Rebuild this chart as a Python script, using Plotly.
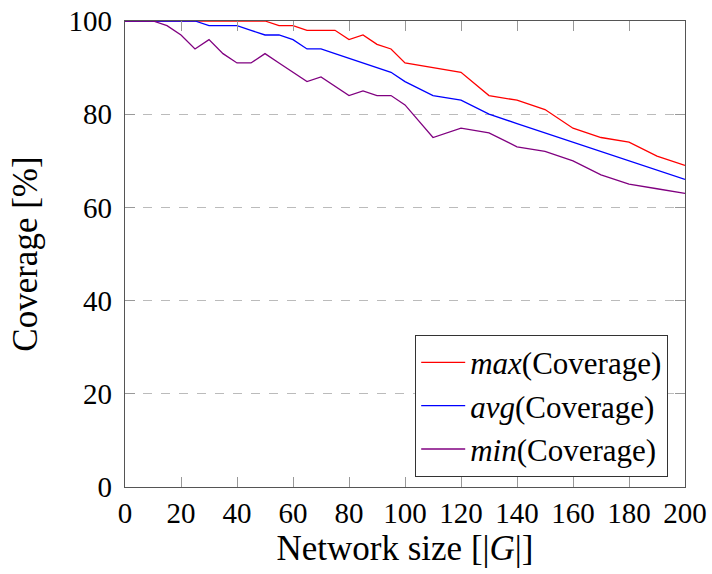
import plotly.graph_objects as go

network_size = [0, 5, 10, 15, 20, 25, 30, 35, 40, 45, 50, 55, 60, 65, 70, 75, 80, 85, 90, 95, 100,
                110, 120, 130, 140, 150, 160, 170, 180, 190, 200]
cov_max = [100, 100, 100, 100, 100, 100, 100, 100, 100, 100, 100, 99, 99, 98, 98, 98, 96, 97, 95, 94, 91,
           90, 89, 84, 83, 81, 77, 75, 74, 71, 69]
cov_avg = [100, 100, 100, 100, 100, 100, 99, 99, 99, 98, 97, 97, 96, 94, 94, 93, 92, 91, 90, 89, 87,
           84, 83, 80, 78, 76, 74, 72, 70, 68, 66]
cov_min = [100, 100, 100, 99, 97, 94, 96, 93, 91, 91, 93, 91, 89, 87, 88, 86, 84, 85, 84, 84, 82,
           75, 77, 76, 73, 72, 70, 67, 65, 64, 63]

x_ticks = list(range(0, 201, 20))
y_ticks = list(range(0, 101, 20))

FONT = "Liberation Serif"

fig = go.Figure()
fig.add_trace(go.Scatter(x=network_size, y=cov_max, mode="lines",
                         line=dict(color="#ff0000", width=1.3),
                         name="<i>max</i>(Coverage)"))
fig.add_trace(go.Scatter(x=network_size, y=cov_avg, mode="lines",
                         line=dict(color="#0000ff", width=1.3),
                         name="<i>avg</i>(Coverage)"))
fig.add_trace(go.Scatter(x=network_size, y=cov_min, mode="lines",
                         line=dict(color="#800080", width=1.3),
                         name="<i>min</i>(Coverage)"))

fig.update_layout(
    width=712, height=574,
    margin=dict(l=125, r=27, t=21, b=87, autoexpand=False),
    paper_bgcolor="white", plot_bgcolor="white",
    font=dict(family=FONT, size=29, color="black"),
    showlegend=True,
    legend=dict(
        x=0.97, y=0.022, xanchor="right", yanchor="bottom",
        bgcolor="white", bordercolor="#333", borderwidth=1,
        font=dict(family=FONT, size=31, color="black"),
        itemwidth=44, tracegroupgap=0,
    ),
    xaxis=dict(
        range=[0, 200], tickvals=x_ticks, ticktext=[str(v) for v in x_ticks],
        showline=True, linecolor="#555", linewidth=1.2, mirror="ticks",
        ticks="inside", ticklen=10, tickcolor="#999", tickwidth=1,
        showgrid=False, zeroline=False, automargin=False, tickangle=0,
        tickfont=dict(family=FONT, size=29),
        title=dict(text="Network size [|<i>G</i>|]", font=dict(family=FONT, size=35), standoff=5),
    ),
    yaxis=dict(
        range=[0, 100], tickvals=y_ticks, ticktext=[str(v) for v in y_ticks],
        showline=True, linecolor="#555", linewidth=1.2, mirror="ticks",
        ticks="inside", ticklen=10, tickcolor="#999", tickwidth=1,
        showgrid=True, gridcolor="#bbbbbb", griddash="dash", gridwidth=1,
        zeroline=False, automargin=False, ticklabelstandoff=6,
        tickfont=dict(family=FONT, size=29),
        title=dict(text="Coverage [%]", font=dict(family=FONT, size=35), standoff=20),
    ),
)

fig.write_html("out.html")
